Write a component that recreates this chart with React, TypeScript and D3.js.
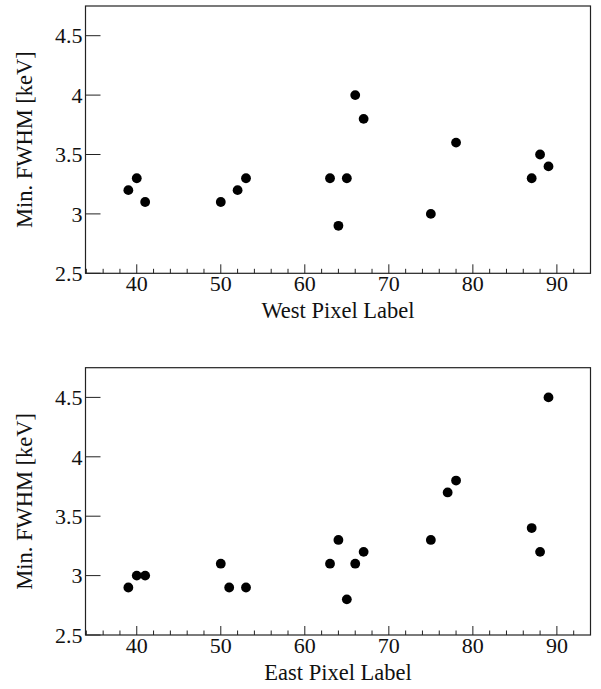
import React from "react";
import * as d3 from "d3";

const westPixels = [39, 40, 41, 50, 52, 53, 63, 64, 65, 66, 67, 75, 78, 87, 88, 89];
const westFwhm = [3.2, 3.3, 3.1, 3.1, 3.2, 3.3, 3.3, 2.9, 3.3, 4.0, 3.8, 3.0, 3.6, 3.3, 3.5, 3.4];

const eastPixels = [39, 40, 41, 50, 51, 53, 63, 64, 65, 66, 67, 75, 77, 78, 87, 88, 89];
const eastFwhm = [2.9, 3.0, 3.0, 3.1, 2.9, 2.9, 3.1, 3.3, 2.8, 3.1, 3.2, 3.3, 3.7, 3.8, 3.4, 3.2, 4.5];

const xMajorTicks = [40, 50, 60, 70, 80, 90];
const yTicks = [2.5, 3, 3.5, 4, 4.5];
const yTickLabels = ["2.5", "3", "3.5", "4", "4.5"];
const yTitle = "Min. FWHM [keV]";

const FONT = "'Liberation Serif', 'DejaVu Serif', serif";

type PanelProps = { top: number; xs: number[]; ys: number[]; xTitle: string };

function Panel({ top, xs, ys, xTitle }: PanelProps) {
  const left = 85.5;
  const right = 590.5;
  const height = 267.3;
  const bottom = top + height;
  const x = d3.scaleLinear().domain([33.9, 94]).range([left, right]);
  const y = d3.scaleLinear().domain([2.5, 4.75]).range([bottom, top]);
  const minor = d3.range(34, 94.01, 2).filter((v) => !xMajorTicks.includes(v));
  return (
    <g>
      <rect x={left} y={top} width={right - left} height={height} fill="none" stroke="#222" strokeWidth={1.2} />
      {xMajorTicks.map((t) => (
        <g key={"xm" + t}>
          <line x1={x(t)} x2={x(t)} y1={bottom} y2={bottom - 9} stroke="#222" strokeWidth={1} />
          <text x={x(t)} y={bottom + 17.5} textAnchor="middle" fontFamily={FONT} fontSize={22} fill="#111">
            {t}
          </text>
        </g>
      ))}
      {minor.map((t) => (
        <line key={"xn" + t} x1={x(t)} x2={x(t)} y1={bottom} y2={bottom - 4.5} stroke="#222" strokeWidth={1} />
      ))}
      {yTicks.map((t, i) => (
        <g key={"y" + t}>
          <line x1={left} x2={left + 15} y1={y(t)} y2={y(t)} stroke="#222" strokeWidth={1} />
          <text x={82.5} y={y(t)} dy="0.35em" textAnchor="end" fontFamily={FONT} fontSize={22} fill="#111">
            {yTickLabels[i]}
          </text>
        </g>
      ))}
      {xs.map((v, i) => (
        <circle key={"p" + i} cx={x(v)} cy={y(ys[i])} r={4.9} fill="#000" />
      ))}
      <text x={(left + right) / 2} y={bottom + 45} textAnchor="middle" fontFamily={FONT} fontSize={22.5} fill="#111">
        {xTitle}
      </text>
      <text
        transform={`translate(32,${(top + bottom) / 2}) rotate(-90)`}
        textAnchor="middle"
        fontFamily={FONT}
        fontSize={22.5}
        fill="#111"
      >
        {yTitle}
      </text>
    </g>
  );
}

export default function App() {
  return (
    <svg
      width={601}
      height={689}
      style={{ position: "absolute", left: 0, top: 0, display: "block", background: "#fff" }}
    >
      <rect width={601} height={689} fill="#fff" />
      <Panel top={6} xs={westPixels} ys={westFwhm} xTitle="West Pixel Label" />
      <Panel top={367.7} xs={eastPixels} ys={eastFwhm} xTitle="East Pixel Label" />
    </svg>
  );
}
